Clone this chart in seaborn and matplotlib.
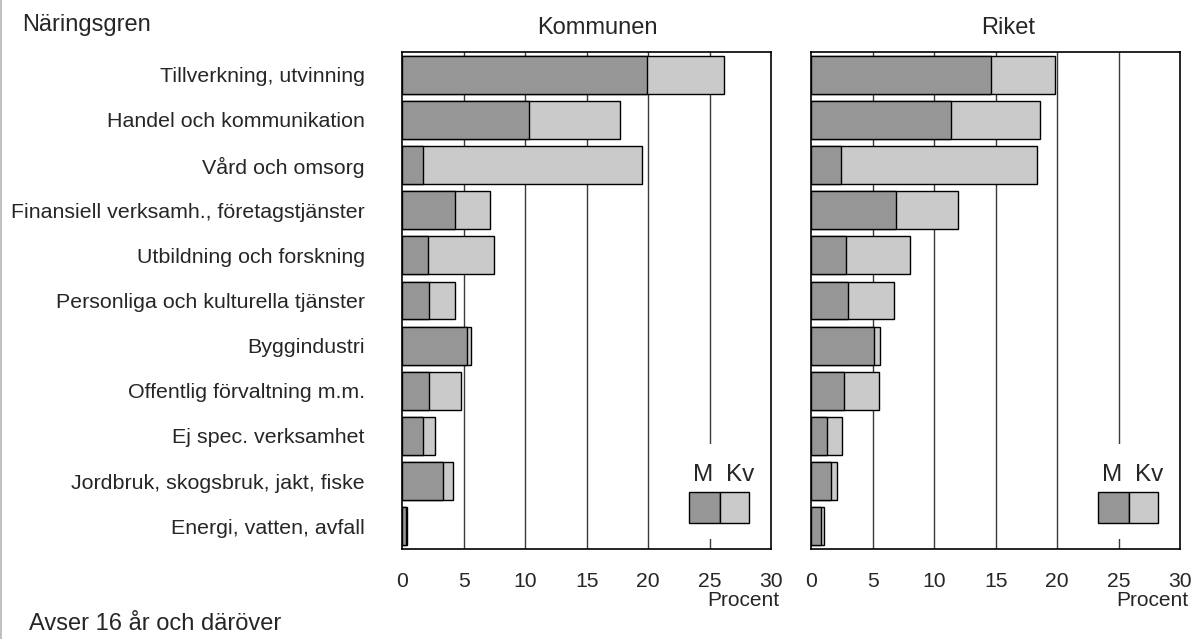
import pandas as pd
import seaborn as sns
import matplotlib.pyplot as plt
from matplotlib.patches import Rectangle
from matplotlib.lines import Line2D

# ── Datos ─────────────────────────────────────────────────────────────────────
naringsgren = [
    "Tillverkning, utvinning",
    "Handel och kommunikation",
    "Vård och omsorg",
    "Finansiell verksamh., företagstjänster",
    "Utbildning och forskning",
    "Personliga och kulturella tjänster",
    "Byggindustri",
    "Offentlig förvaltning m.m.",
    "Ej spec. verksamhet",
    "Jordbruk, skogsbruk, jakt, fiske",
    "Energi, vatten, avfall",
]
kommun_m = [19.9, 10.3, 1.7, 4.3, 2.1, 2.2, 5.3, 2.2, 1.7, 3.3, 0.3]
kommun_kv = [6.3, 7.4, 17.8, 2.8, 5.4, 2.1, 0.3, 2.6, 1.0, 0.8, 0.1]
riket_m = [14.6, 11.4, 2.4, 6.9, 2.8, 3.0, 5.1, 2.7, 1.3, 1.6, 0.8]
riket_kv = [5.2, 7.2, 16.0, 5.0, 5.2, 3.7, 0.5, 2.8, 1.2, 0.5, 0.2]
paneler = ["Kommunen", "Riket"]
xticks = [0, 5, 10, 15, 20, 25, 30]

df = pd.DataFrame({
    "Näringsgren": naringsgren * 2,
    "Område": [paneler[0]] * len(naringsgren) + [paneler[1]] * len(naringsgren),
    "M": kommun_m + riket_m,
    "Kv": kommun_kv + riket_kv,
})
df["Totalt"] = df["M"] + df["Kv"]

# ── Estilo ────────────────────────────────────────────────────────────────────
sns.set_theme(style="white")
plt.rcParams["font.family"] = ["Liberation Sans", "DejaVu Sans"]

c_m = "#969696"
c_kv = "#cacaca"

W, H = 1194, 639
fig = plt.figure(figsize=(W / 100, H / 100), dpi=100)

ax_w, ax_h = 368.7 / W, 496.4 / H
ax_b = (H - 548.7) / H
lefts = [402.3 / W, 811.3 / W]
title_x = [597, 1008]
procent_x = [779, 1188]

for i, omr in enumerate(paneler):
    ax = fig.add_axes([lefts[i], ax_b, ax_w, ax_h])
    d = df[df["Område"] == omr]

    for x in xticks[1:-1]:
        ax.axvline(x, color="#3a3a3a", lw=1, zorder=0)

    sns.barplot(data=d, y="Näringsgren", x="Totalt", order=naringsgren,
                color=c_kv, saturation=1, width=0.84, edgecolor="black",
                linewidth=1, orient="h", ax=ax, zorder=2)
    sns.barplot(data=d, y="Näringsgren", x="M", order=naringsgren,
                color=c_m, saturation=1, width=0.84, edgecolor="black",
                linewidth=1, orient="h", ax=ax, zorder=3)

    ax.set_xlim(0, 30)
    ax.set_ylim(len(naringsgren) - 0.5, -0.5)
    ax.set_xticks(xticks)
    ax.set_xticklabels([str(t) for t in xticks])
    ax.tick_params(axis="x", length=0, pad=17, labelsize=15.2)
    ax.tick_params(axis="y", length=0, pad=27, labelsize=15.4)
    ax.set_xlabel("")
    ax.set_ylabel("")
    if i == 1:
        ax.set_yticklabels([])
    for s in ax.spines.values():
        s.set_visible(True)
        s.set_color("black")
        s.set_linewidth(1.2)

    # leyenda M / Kv
    ax.add_patch(Rectangle((0.74, 0.02), 0.24, 0.19, transform=ax.transAxes,
                           facecolor="white", edgecolor="none", zorder=4))
    ax.add_patch(Rectangle((0.777, 0.052), 0.084, 0.062, transform=ax.transAxes,
                           facecolor=c_m, edgecolor="black", lw=1, zorder=5))
    ax.add_patch(Rectangle((0.861, 0.052), 0.079, 0.062, transform=ax.transAxes,
                           facecolor=c_kv, edgecolor="black", lw=1, zorder=5))
    ax.text(0.815, 0.148, "M", transform=ax.transAxes, ha="center",
            va="center", fontsize=17.5, zorder=6)
    ax.text(0.916, 0.148, "Kv", transform=ax.transAxes, ha="center",
            va="center", fontsize=17.5, zorder=6)

    fig.text(title_x[i] / W, 1 - 28 / H, omr, ha="center", va="center",
             fontsize=17)
    fig.text(procent_x[i] / W, 1 - 600 / H, "Procent", ha="right",
             va="center", fontsize=15)

fig.text(22 / W, 1 - 25 / H, "Näringsgren", ha="left", va="center", fontsize=17)
fig.text(29 / W, 1 - 624 / H, "Avser 16 år och däröver", ha="left",
         va="center", fontsize=17)
fig.add_artist(Line2D([0.5 / W, 0.5 / W], [0, 1], color="#b4b4b4", lw=1.2,
                      transform=fig.transFigure))

fig.savefig("out.png", dpi=100)
